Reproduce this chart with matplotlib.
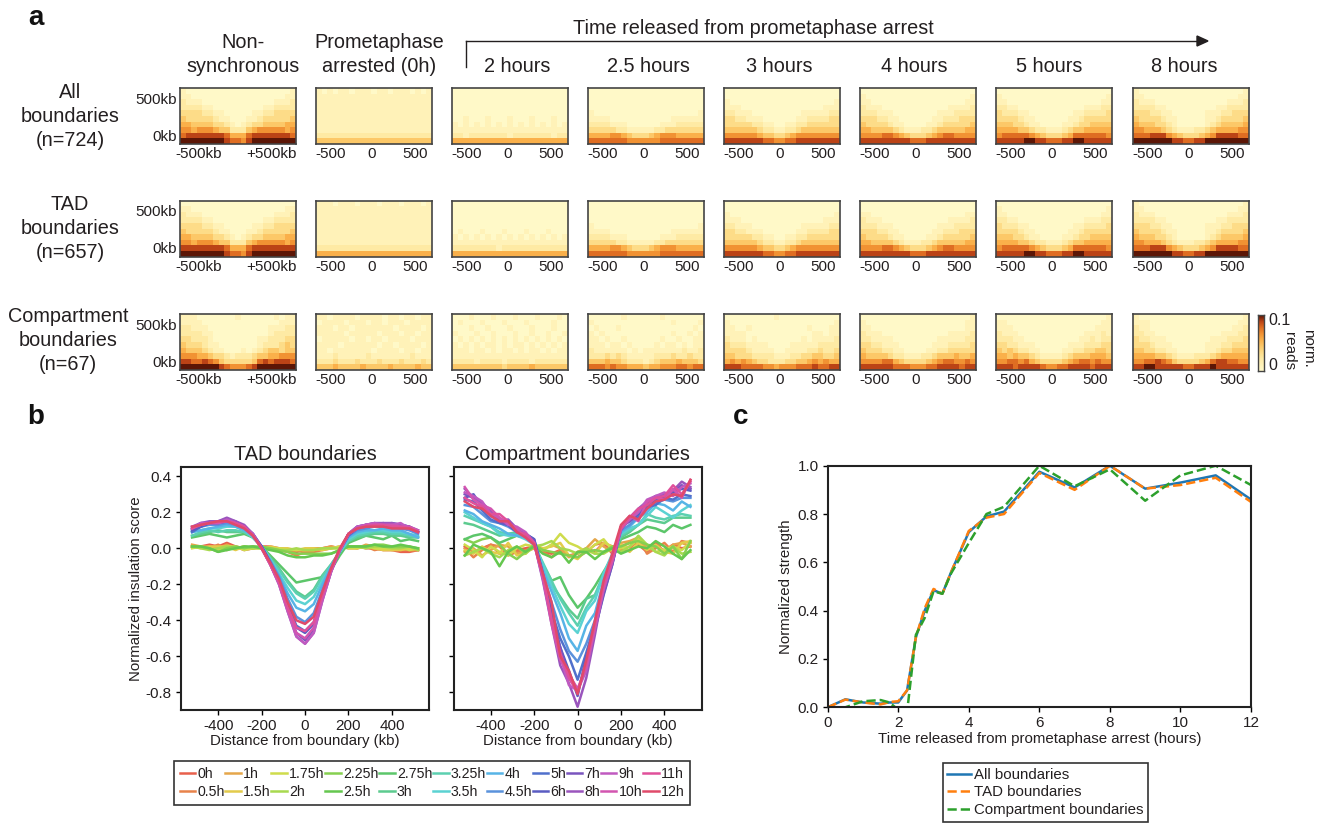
import numpy as np
import matplotlib
matplotlib.use("Agg")
import matplotlib.pyplot as plt
from matplotlib.colors import LinearSegmentedColormap

plt.rcParams['font.family'] = ['Liberation Sans', 'DejaVu Sans']
plt.rcParams['axes.unicode_minus'] = False
plt.rcParams['text.color'] = '#231f20'
plt.rcParams['axes.labelcolor'] = '#231f20'
plt.rcParams['xtick.labelcolor'] = '#231f20'
plt.rcParams['ytick.labelcolor'] = '#231f20'

W, H = 1329, 825

# heatmap cells, one string per row (top to bottom), digit = level 0-9 of 0.1 norm. reads
all_nonsync = "100000000000000000001 110000000000000000011 211100000000000001112 222211000000000112222 333322110000011223333 433333211000112333334 554444332101233444455 665666544222456666656 788888887555788888887 999999998776899999999".split()
all_arrest = "101011011101101110101 111111111111111111111 111111111111111111111 111111111111111111111 111111111111111111111 111111111111111111111 111111111111111111111 111111111111111111111 222222222222222222222 444444444444444444444".split()
all_2h = "000000000000000000000 000000000000000000000 000000000000000000000 000000000000000000000 000000000000000000000 001000100010001000100 101010101010101010101 111111111111111111111 221222222212222222122 555555555555555555555".split()
all_2_5h = "000000000000000000000 000000000000000000000 000000000000000000000 000000000000000000000 100000000000000000001 111100000000000111111 222211100000011122222 333332211111223333333 555566543334566655555 777777766666677777777".split()
all_3h = "000000000000000000000 000000000000000000000 100000000000000000001 111000000000000000111 221110000000001111122 332211100000011222233 333332211001122333333 444444322112234444444 666666544334566666666 888888877667788888888".split()
all_4h = "000000000000000000000 100000000000000000001 110000000000000000011 211100000000000011112 222111000000001112222 333221100000011222333 433332110000112333334 554444321112234444455 666677654333456776666 888888888777888888888".split()
all_5h = "000000000000000000000 100000000000000000001 110000000000000000011 221100000000000011122 322211000000001122223 333321100000011233333 444332110000112334444 555544322111234455555 677777654333457777776 888889988777889988888".split()
all_8h = "100000000000000000001 110000000000000000011 211100000000000001112 222211000000000112222 333221100000011122333 433332110000011233334 544433210000012344445 665554321112234555566 777888654333456888877 999999988778899999999".split()

tad_nonsync = "000000000000000000000 110000000000000000011 211100000000000001112 222211000000000112222 333322110000011223333 433333211000112333334 554444332101233444455 665666544222456666656 888888887555788888888 999999998776899999999".split()
tad_arrest = "111011101110111011101 111111111111111111111 111111111111111111111 111111111111111111111 111111111111111111111 111111111111111111111 111111111111111111111 111111111111111111111 222222222222222222222 555555555555555555555".split()
tad_2h = "000000000000000000000 000000000000000000000 000000000000000000000 000000000000000000000 000000000000000000000 010001000100010001000 101010101010101010101 111111111111111111111 222222221222222222222 555555555555555555555".split()
tad_2_5h = "000000000000000000000 000000000000000000000 000000000000000000000 000000000000000000000 100000000000000000001 111100000000000111111 222211100000011122222 333332211111223333333 555566543334566655555 777777766666677777777".split()
tad_3h = "000000000000000000000 000000000000000000000 100000000000000000001 111000000000000000111 221110000000001111122 332211100000011222233 333332211001122333333 444444322112234444444 666666544334566666666 888888877667788888888".split()
tad_4h = "000000000000000000000 000000000000000000000 110000000000000000011 211100000000000011112 222111000000001112222 333221100000011222333 433332110000112333334 554444321112234444455 666677654333456776666 888888888777888888888".split()
tad_5h = "000000000000000000000 100000000000000000001 110000000000000000011 221100000000000011122 322211000000001122223 333321100000011233333 444332110000112334444 555544322111234455555 677777654333457777776 888889988777889988888".split()
tad_8h = "100000000000000000001 110000000000000000011 211100000000000001112 222211000000000112222 333221100000011122333 433332110000011233334 544433210000012344445 665554321112234555566 777888654333456888877 999999988778899999999".split()

comp_nonsync = "111000000010000001011 111100000000000000111 221110000000000011122 222211000000000012222 332221000000001122233 433321100000001222343 544432110001012344344 666554332122234455666 887787643333347878887 999999987666789999999".split()
comp_arrest = "110111101111011011011 011110111011011101111 111011011111110111101 111110111110111011011 011111011011011110111 111101111110110111101 110111111101111011011 111211111211111112111 222322232223222322232 444544445444454444544".split()
comp_2h = "000100010001000100010 010001000100010000100 000100100010001000100 100010010001001001001 010101010101010101010 101010110101101010101 111011010110101101011 111111111111111111111 222212222122221222222 444444444344445444444".split()
comp_2_5h = "000000100000010000000 100000000000000100001 010001000000000000010 101000000000000100101 110100100000010010011 111011010000101101011 211111101011111112112 222323211111222322322 444544322212344454443 777676655545566677677".split()
comp_3h = "000000000100000000000 100000000000000000001 110010000000000100011 111100000000000011011 211101000000001011112 322211110000111112222 333321111001111223223 443332222111223344334 565654332223344565655 888777766566677787788".split()
comp_4h = "000000000000000000001 100000000000000000011 110000000000000000011 211100000000000011112 221111000000001111122 332211100000011122223 433322110000112233333 544443221112234445445 666677543333456776676 888888777666778888788".split()
comp_5h = "000000000000000000001 110000000000000000011 111000000000000000111 211100000000000011121 222110000000000112122 332211100000011122233 434322110000112233443 554544321111234445554 667767543333456776766 888788887667788887888".split()
comp_8h = "100000000000000000001 111000000000000000011 211000000000000000112 221100000000000011122 322111000000001112223 333211100000011122333 443322110000011233444 555544321112223455555 667787643333457887766 889988888778889888888".split()

heat_rows = [
    [all_nonsync, all_arrest, all_2h, all_2_5h, all_3h, all_4h, all_5h, all_8h],
    [tad_nonsync, tad_arrest, tad_2h, tad_2_5h, tad_3h, tad_4h, tad_5h, tad_8h],
    [comp_nonsync, comp_arrest, comp_2h, comp_2_5h, comp_3h, comp_4h, comp_5h, comp_8h],
]

hours = ["0h", "0.5h", "1h", "1.5h", "1.75h", "2h", "2.25h", "2.5h", "2.75h", "3h", "3.25h",
         "3.5h", "4h", "4.5h", "5h", "6h", "7h", "8h", "9h", "10h", "11h", "12h"]
hour_colors = ["#e8604c", "#e8834a", "#e5a64a", "#e3cb4b", "#cfdc4c", "#a8d94f", "#86d050", "#65c74f",
               "#5cc66a", "#5ccb8f", "#5cd0b0", "#5bd2d2", "#57b4e6", "#5a92dc", "#5070cc", "#5a5cc2",
               "#7a55be", "#9a55bd", "#c05ac0", "#d255b0", "#e0509a", "#e04a6a"]

x_kb = list(range(-520, 521, 40))

# insulation score x100, one list per time point
tad_0h = [1,1,2,1,3,1,-1,0,1,1,0,-1,-2,-1,-1,0,1,0,1,1,0,0,-1,-1,-2,-2,-1]
tad_0_5h = [1,1,0,2,-1,1,0,1,0,0,-1,-2,-4,-2,-2,-1,0,1,0,0,1,-1,0,0,-1,-1,-1]
tad_1h = [2,1,1,0,2,0,1,0,1,0,0,-1,-1,-1,0,0,1,0,1,0,2,1,0,-1,0,-1,-1]
tad_1_5h = [1,0,1,1,1,-1,1,0,0,1,0,0,-1,0,0,-1,0,0,1,1,1,0,-1,-1,-1,0,0]
tad_1_75h = [0,1,0,-1,1,1,-1,0,1,0,0,-1,-1,-1,-1,0,0,1,0,0,1,0,0,0,1,-1,0]
tad_2h = [1,0,-1,0,1,0,1,0,0,0,-1,-1,0,-1,-1,0,0,0,1,1,0,1,1,0,0,1,-1]
tad_2_25h = [1,1,0,-2,0,1,0,1,1,0,-1,-2,-3,-3,-3,-3,-3,-1,1,1,1,2,2,1,1,1,0]
tad_2_5h = [1,1,0,-2,-1,0,1,1,0,-1,-2,-4,-5,-5,-4,-4,-3,-1,1,1,1,2,1,1,2,1,0]
tad_2_75h = [6,7,8,7,6,7,8,6,1,-4,-9,-14,-19,-18,-17,-16,-12,-4,3,5,7,6,5,7,4,5,4]
tad_3h = [7,8,9,10,9,9,9,6,1,-5,-11,-18,-24,-27,-23,-15,-9,-2,4,6,7,8,8,7,7,6,6]
tad_3_25h = [7,9,10,9,10,10,9,6,1,-6,-12,-19,-25,-28,-24,-16,-9,-2,4,7,8,9,9,8,8,7,6]
tad_3_5h = [9,10,11,11,12,12,10,6,1,-6,-14,-22,-29,-31,-27,-18,-10,-2,5,8,9,10,10,9,9,8,7]
tad_4h = [9,10,11,12,13,12,10,7,1,-7,-15,-25,-33,-35,-31,-20,-10,-2,6,9,10,10,11,10,10,8,6]
tad_4_5h = [10,12,13,13,14,13,11,7,1,-7,-16,-28,-38,-41,-36,-23,-11,-1,7,10,11,12,12,12,11,10,8]
tad_5h = [9,12,14,14,15,14,12,8,1,-8,-18,-31,-43,-46,-41,-26,-12,-1,7,11,12,13,13,14,13,12,9]
tad_6h = [10,12,14,14,15,14,12,7,1,-8,-18,-32,-44,-47,-42,-26,-12,-1,8,11,13,13,14,13,13,11,9]
tad_7h = [11,14,14,15,16,15,12,8,1,-9,-19,-34,-47,-51,-45,-28,-13,-1,8,12,13,14,13,13,13,12,10]
tad_8h_line = [12,14,15,15,17,15,13,8,0,-9,-20,-35,-49,-53,-47,-29,-13,-1,8,12,13,14,14,14,13,12,9]
tad_9h = [11,14,14,14,16,14,12,8,0,-9,-20,-35,-49,-53,-47,-29,-13,-1,8,12,13,14,13,13,14,11,9]
tad_10h = [12,13,14,14,15,14,12,7,0,-9,-19,-34,-47,-50,-44,-27,-12,-1,8,11,13,13,13,13,12,12,10]
tad_11h = [11,13,14,15,15,14,12,7,0,-9,-19,-33,-44,-46,-41,-26,-12,-1,8,11,12,13,13,12,12,11,9]
tad_12h = [12,13,14,15,15,13,11,7,0,-8,-17,-30,-40,-42,-38,-24,-11,0,8,11,12,12,12,11,11,11,9]

comp_0h = [1,-2,0,2,-3,-2,-1,0,1,-2,-3,-1,-4,-3,0,-2,3,-3,1,3,2,-2,3,-2,2,0,1]
comp_0_5h = [0,-5,-1,2,1,-4,-2,-1,0,-2,-5,-1,-4,-5,-2,2,3,1,-1,-1,6,-3,0,3,-2,4,3]
comp_1h = [-2,0,-4,-1,2,1,-3,-2,0,-1,2,0,-5,-2,0,5,1,-2,3,4,6,0,1,-1,2,3,1]
comp_1_5h = [-1,-3,1,-2,-3,3,-4,-3,2,0,1,3,-4,-6,-1,-3,3,1,2,-2,3,-1,2,-2,-3,3,4]
comp_1_75h = [2,-1,-5,1,-2,-4,0,2,1,-1,2,8,3,1,-2,2,5,-1,0,1,5,2,-2,-1,1,-1,3]
comp_2h = [-4,-2,0,-3,-5,-1,1,-3,1,2,4,0,-1,-3,0,-3,-3,0,-2,1,7,2,-2,-4,1,-3,-2]
comp_2_25h = [5,3,5,6,2,-3,-6,-2,2,-1,-2,-3,-4,-5,-2,-1,-2,1,1,3,4,2,1,-3,1,-6,4]
comp_2_5h = [-4,2,0,-2,-10,-2,1,-2,1,-3,-5,-2,-8,-2,-2,-6,-2,0,-3,-1,1,0,4,1,-3,-6,-1]
comp_2_75h = [5,7,8,6,3,5,7,6,3,-9,-18,-16,-26,-33,-28,-21,-13,-5,5,7,9,12,11,9,13,11,13]
comp_3h = [14,13,11,9,7,8,9,6,2,-10,-20,-27,-34,-39,-28,-26,-16,-5,6,9,13,16,15,14,17,17,17]
comp_3_25h = [18,16,14,12,9,8,8,6,2,-8,-18,-28,-36,-43,-33,-26,-14,-4,7,10,13,19,17,16,18,19,18]
comp_3_5h = [20,17,14,12,8,7,7,5,2,-9,-21,-32,-42,-47,-35,-29,-14,-3,8,11,13,18,23,20,17,21,24]
comp_4h = [21,19,15,13,11,8,7,6,3,-12,-24,-36,-50,-57,-43,-36,-18,-4,9,12,17,20,25,24,21,26,23]
comp_4_5h = [24,23,19,15,14,12,9,7,4,-14,-30,-45,-57,-63,-53,-40,-20,-5,10,13,18,22,25,27,26,28,28]
comp_5h = [27,26,21,16,14,13,10,8,5,-15,-35,-50,-60,-73,-58,-42,-24,-8,11,16,17,23,24,28,27,30,29]
comp_6h = [28,30,23,20,15,13,9,8,5,-14,-36,-55,-68,-82,-60,-45,-26,-9,12,15,19,24,27,29,31,33,32]
comp_7h = [30,28,24,18,15,13,10,8,4,-16,-38,-55,-72,-79,-65,-45,-25,-9,12,15,20,25,29,28,32,35,33]
comp_8h_line = [33,28,25,21,15,16,11,7,3,-18,-42,-65,-75,-88,-72,-48,-22,-8,10,17,22,26,29,30,32,37,34]
comp_9h = [31,29,26,19,17,13,12,9,3,-17,-40,-60,-76,-79,-68,-44,-23,-7,11,16,20,27,29,31,29,34,36]
comp_10h = [34,27,24,22,17,14,11,6,2,-16,-42,-62,-70,-78,-66,-44,-22,-7,12,18,15,26,28,27,33,28,38]
comp_11h = [28,25,23,19,19,15,9,8,3,-15,-40,-58,-72,-80,-64,-42,-20,-6,11,17,22,24,28,29,35,30,37]
comp_12h = [26,23,22,18,15,15,9,6,2,-14,-30,-60,-68,-81,-62,-40,-18,-3,13,18,16,22,26,27,30,29,38]

tad_series = [tad_0h, tad_0_5h, tad_1h, tad_1_5h, tad_1_75h, tad_2h, tad_2_25h, tad_2_5h, tad_2_75h, tad_3h,
              tad_3_25h, tad_3_5h, tad_4h, tad_4_5h, tad_5h, tad_6h, tad_7h, tad_8h_line, tad_9h, tad_10h,
              tad_11h, tad_12h]
comp_series = [comp_0h, comp_0_5h, comp_1h, comp_1_5h, comp_1_75h, comp_2h, comp_2_25h, comp_2_5h, comp_2_75h,
               comp_3h, comp_3_25h, comp_3_5h, comp_4h, comp_4_5h, comp_5h, comp_6h, comp_7h, comp_8h_line,
               comp_9h, comp_10h, comp_11h, comp_12h]

# panel c
time_h = [0, 0.5, 1, 1.5, 1.75, 2, 2.25, 2.5, 2.75, 3, 3.25, 3.5, 4, 4.5, 5, 6, 7, 8, 9, 10, 11, 12]
strength_all = [0, .033, .02, .015, .02, .02, .07, .29, .40, .485, .47, .56, .725, .79, .81, .975, .91, 1.0, .905, .93, .96, .86]
strength_tad = [0, .032, .02, .012, .022, .025, .07, .29, .41, .49, .47, .56, .73, .785, .80, .97, .90, 1.0, .905, .92, .95, .85]
strength_comp = [0, 0, .025, .03, .02, -.01, -.02, .30, .37, .48, .47, .555, .68, .80, .83, 1.0, .915, .985, .855, .96, 1.0, .92]

col_lefts = [180, 316, 452, 588, 724, 860, 996, 1133]
row_tops = [88, 200.5, 314]
heat_w, heat_h = 116, 56

cmap = LinearSegmentedColormap.from_list("reads", ["#fff9c8", "#fff2b8", "#feeaa4", "#fddc88", "#fcc868",
                                                   "#fab04a", "#f19233", "#e06e22", "#bc4416", "#5c1606"])


def ax_px(left, top, right, bottom):
    return fig.add_axes([left / W, 1 - bottom / H, (right - left) / W, (bottom - top) / H])


def txt(x, y, s, **kw):
    kw.setdefault('ha', 'center')
    kw.setdefault('va', 'center')
    return fig.text(x / W, 1 - y / H, s, **kw)


fig = plt.figure(figsize=(W / 100, H / 100), dpi=100)

# panel a heatmaps
for r, panels in enumerate(heat_rows):
    for c, rows in enumerate(panels):
        ax = ax_px(col_lefts[c], row_tops[r], col_lefts[c] + heat_w, row_tops[r] + heat_h)
        grid = np.array([[int(ch) for ch in row] for row in rows]) / 9 * 0.1
        ax.pcolormesh(grid[::-1], cmap=cmap, vmin=0, vmax=0.1)
        for s in ax.spines.values():
            s.set_linewidth(1.2)
            s.set_color('#444444')
        if c == 0:
            ax.set_xticks([3.3, 16.6], ['-500kb', '+500kb'])
            ax.set_yticks([1.6, 8.2], ['0kb', '500kb'])
        else:
            ax.set_xticks([2.6, 10.1, 18], ['-500', '0', '500'])
            ax.set_yticks([])
        ax.tick_params(length=0, labelsize=11, pad=2.5)

txt(243, 42, "Non-", fontsize=14.3)
txt(243, 66, "synchronous", fontsize=14.3)
txt(379, 42, "Prometaphase", fontsize=14.3)
txt(379, 66, "arrested (0h)", fontsize=14.3)
for x, s in zip([517, 648, 779, 914, 1049, 1184], ["2 hours", "2.5 hours", "3 hours", "4 hours", "5 hours", "8 hours"]):
    txt(x, 66, s, fontsize=14.3)
txt(753, 29, "Time released from prometaphase arrest", fontsize=14.3)
fig.add_artist(plt.Line2D([466 / W, 466 / W], [1 - 67 / H, 1 - 41 / H], color='#231f20', lw=1))
fig.add_artist(plt.Line2D([466 / W, 1200 / W], [1 - 41 / H, 1 - 41 / H], color='#231f20', lw=1))
fig.add_artist(plt.Polygon([[1197 / W, 1 - 36 / H], [1208 / W, 1 - 41 / H], [1197 / W, 1 - 46 / H]],
                           closed=True, color='#231f20', transform=fig.transFigure))

for y, lines in zip([93, 205, 317], [["All", "boundaries", "(n=724)"], ["TAD", "boundaries", "(n=657)"],
                                     ["Compartment", "boundaries", "(n=67)"]]):
    for i, s in enumerate(lines):
        txt(68 if lines[0] == "Compartment" else 70, y + 24 * i, s, fontsize=14.3)

txt(36, 18, "a", fontsize=20, fontweight='bold', color='#111111')
txt(36, 417, "b", fontsize=20, fontweight='bold', color='#111111')
txt(741, 417, "c", fontsize=20, fontweight='bold', color='#111111')

# colorbar
cax = ax_px(1258, 315, 1264, 371)
cax.imshow(np.linspace(0.1, 0, 100).reshape(-1, 1), aspect='auto', cmap=cmap, vmin=0, vmax=0.1)
cax.set_xticks([])
cax.set_yticks([])
for s in cax.spines.values():
    s.set_linewidth(1)
    s.set_color('#444444')
txt(1268, 320, "0.1", fontsize=11.5, ha='left')
txt(1268, 366, "0", fontsize=11.5, ha='left')
txt(1289, 351, "reads", fontsize=11, rotation=-90)
txt(1308, 348, "norm.", fontsize=11, rotation=-90)

# panel b
ax1 = ax_px(181, 466.7, 429.3, 710)
ax2 = ax_px(453.7, 466.7, 701.7, 710)
for ax, series, title in [(ax1, tad_series, "TAD boundaries"), (ax2, comp_series, "Compartment boundaries")]:
    for vals, col, name in zip(series, hour_colors, hours):
        ax.plot(x_kb, np.array(vals) / 100, color=col, lw=1.8, label=name)
    ax.set_xlim(-571, 572)
    ax.set_ylim(-0.898, 0.453)
    ax.set_xticks([-400, -200, 0, 200, 400])
    ax.set_yticks([0.4, 0.2, 0, -0.2, -0.4, -0.6, -0.8])
    ax.tick_params(labelsize=11, length=3.5, width=1, pad=3)
    ax.set_xlabel("Distance from boundary (kb)", fontsize=10.8, labelpad=1)
    ax.set_title(title, fontsize=14.3, pad=5)
    for s in ax.spines.values():
        s.set_linewidth(1.5)
        s.set_color('#222222')
ax1.set_ylabel("Normalized insulation score", fontsize=10.8, labelpad=2)
ax2.set_yticklabels([])

handles, labels = ax1.get_legend_handles_labels()
fig.legend(handles, labels, ncol=11, loc='center', bbox_to_anchor=(432 / W, 1 - 783 / H), fontsize=10.2,
           fancybox=False, edgecolor='#333333', framealpha=1, handlelength=1.1, handletextpad=0.15,
           columnspacing=0.05, borderpad=0.4, labelspacing=0.3, borderaxespad=0).get_frame().set_linewidth(1.2)

# panel c
ax3 = ax_px(827.7, 465.7, 1251, 707.3)
ax3.plot(time_h, strength_all, color='#1f77b4', lw=1.8, label="All boundaries")
ax3.plot(time_h, strength_tad, color='#ff7f0e', lw=1.8, ls='--', label="TAD boundaries")
ax3.plot(time_h, strength_comp, color='#2ca02c', lw=1.8, ls='--', label="Compartment boundaries")
ax3.set_xlim(0, 12)
ax3.set_ylim(0, 1)
ax3.set_xticks([0, 2, 4, 6, 8, 10, 12])
ax3.set_yticks([0, 0.2, 0.4, 0.6, 0.8, 1.0])
ax3.tick_params(labelsize=11, length=3.5, width=1, pad=3)
ax3.set_xlabel("Time released from prometaphase arrest (hours)", fontsize=10.8, labelpad=1)
ax3.set_ylabel("Normalized strength", fontsize=10.8, labelpad=3)
for s in ax3.spines.values():
    s.set_linewidth(1.5)
    s.set_color('#222222')
fig.legend(*ax3.get_legend_handles_labels(), loc='center', bbox_to_anchor=(1045.5 / W, 1 - 792.5 / H), fontsize=10.8,
           fancybox=False, edgecolor='#333333', framealpha=1, handlelength=1.6, handletextpad=0.2,
           borderpad=0.3, labelspacing=0.25, borderaxespad=0).get_frame().set_linewidth(1.2)

fig.savefig("out.png", dpi=100)
